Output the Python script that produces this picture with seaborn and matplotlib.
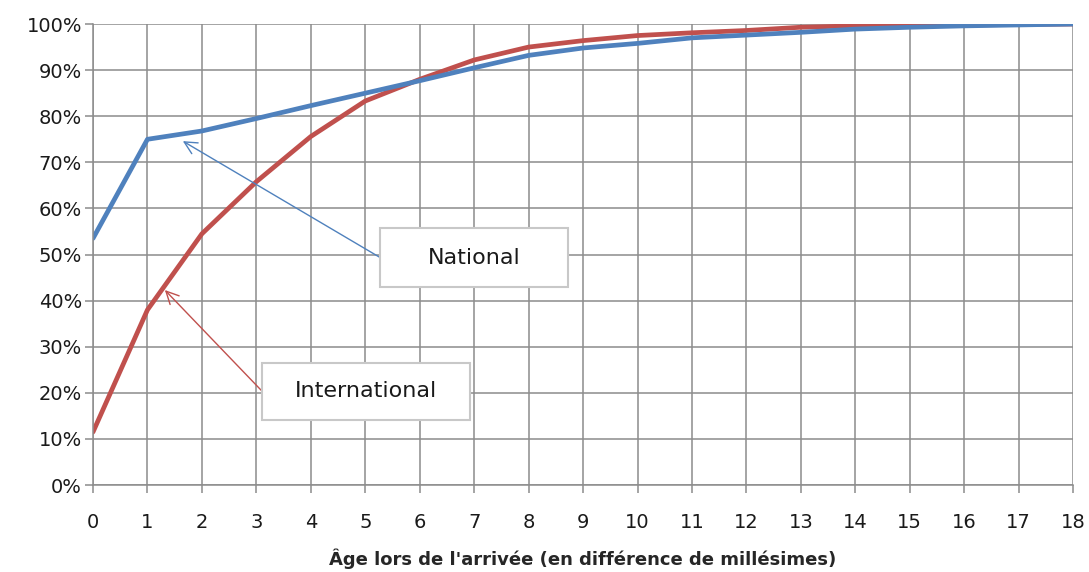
import numpy as np
import pandas as pd
import matplotlib
matplotlib.use("Agg")
import matplotlib.pyplot as plt
import seaborn as sns
from matplotlib.patches import Rectangle
from matplotlib.ticker import PercentFormatter

# Data (cumulative share, %)
ages = list(range(19))
national = [53.5, 75.0, 76.8, 79.5, 82.3, 85.0, 87.7, 90.5, 93.2, 94.8,
            95.8, 97.0, 97.6, 98.2, 98.9, 99.3, 99.6, 99.8, 100.0]
international = [11.5, 38.0, 54.5, 65.8, 75.6, 83.3, 88.0, 92.2, 95.0, 96.4,
                 97.5, 98.1, 98.6, 99.3, 99.6, 99.8, 99.8, 99.9, 100.0]
series_names = ["National", "International"]
colors = ["#4F81BD", "#C0504D"]
yticks = list(range(0, 101, 10))

df = pd.DataFrame({
    "age": ages * 2,
    "value": national + international,
    "series": [series_names[0]] * len(ages) + [series_names[1]] * len(ages),
})

sns.set_style("whitegrid")
plt.rcParams["font.family"] = ["DejaVu Sans"]

fig = plt.figure(figsize=(10.89, 5.72), dpi=100)
ax = fig.add_axes([0.0854, 0.152, 0.9, 0.806])

# draw international first so national sits on top like the original
sns.lineplot(data=df, x="age", y="value", hue="series",
             hue_order=series_names[::-1], palette=colors[::-1],
             linewidth=3.4, legend=False, ax=ax)

ax.set_xlim(0, 18)
ax.set_ylim(0, 100)
ax.set_xticks(ages)
ax.set_yticks(yticks)
ax.yaxis.set_major_formatter(PercentFormatter(decimals=0))
ax.grid(True, color="#8c8c8c", linewidth=1.1)
ax.set_axisbelow(True)
for side in ["top", "right"]:
    ax.spines[side].set_visible(False)
for side in ["left", "bottom"]:
    ax.spines[side].set_color("#8c8c8c")
    ax.spines[side].set_linewidth(1.1)
ax.tick_params(axis="both", bottom=True, left=True, length=6, width=1.1,
               color="#8c8c8c", labelsize=14, labelcolor="#1a1a1a")
ax.tick_params(axis="x", pad=14)
ax.tick_params(axis="y", pad=2)
ax.set_ylabel("")
ax.set_xlabel("Âge lors de l'arrivée (en différence de millésimes)",
              fontsize=13, fontweight="bold", va="center")
ax.xaxis.set_label_coords(0.5, -0.16)

# callout boxes with arrows
boxes = [
    ("National", colors[0], (5.28, 42.9), 3.45, 12.8, (1.65, 74.6)),
    ("International", colors[1], (3.11, 14.1), 3.82, 12.4, (1.32, 42.3)),
]
for label, col, (bx, by), bw, bh, tip in boxes:
    ax.annotate("", xy=tip, xytext=(bx, by + bh / 2),
                arrowprops=dict(arrowstyle="->,head_length=0.9,head_width=0.45",
                                color=col, lw=1.0, shrinkA=0, shrinkB=0),
                zorder=5)
    ax.add_patch(Rectangle((bx, by), bw, bh, facecolor="white",
                           edgecolor="#c8c8c8", linewidth=1.5, zorder=6))
    ax.text(bx + bw / 2, by + bh / 2, label, ha="center", va="center",
            fontsize=16, color="#1a1a1a", zorder=7)

fig.savefig("out.png", dpi=100)
